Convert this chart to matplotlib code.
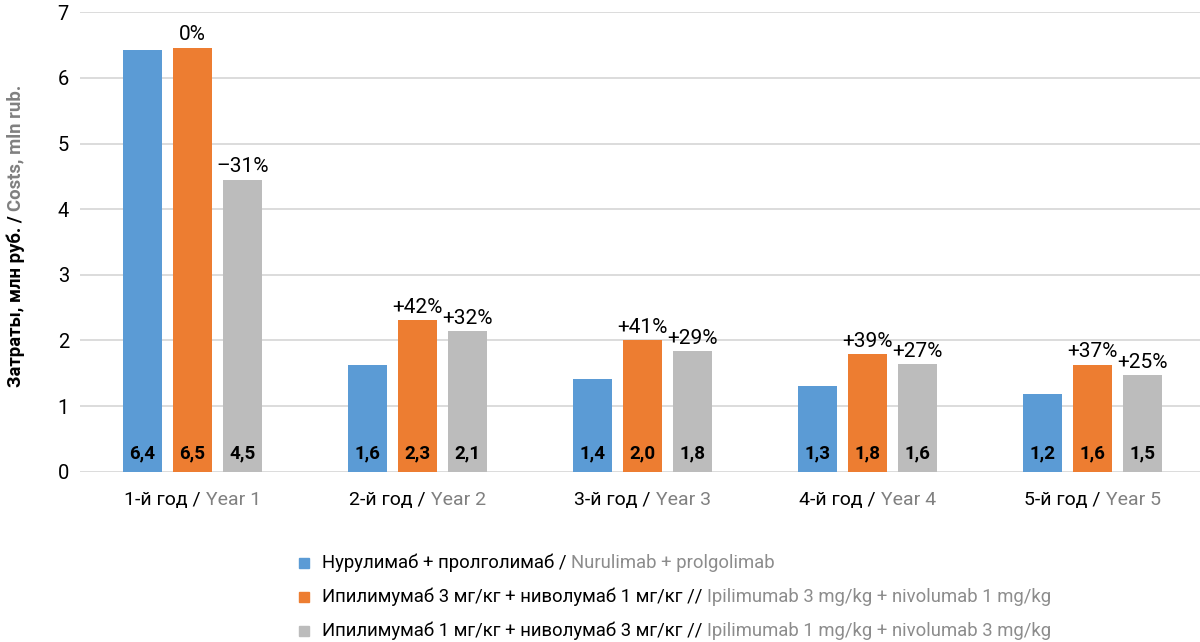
import matplotlib
matplotlib.use("Agg")
import matplotlib.pyplot as plt
from matplotlib.patches import Rectangle
import numpy as np

# DATA
years_ru = ["1-й год / ", "2-й год / ", "3-й год / ", "4-й год / ", "5-й год / "]
years_en = ["Year 1", "Year 2", "Year 3", "Year 4", "Year 5"]

nurulimab = [6.43, 1.63, 1.41, 1.30, 1.19]
ipi3_nivo1 = [6.46, 2.31, 2.01, 1.79, 1.63]
ipi1_nivo3 = [4.45, 2.14, 1.84, 1.64, 1.47]

pct_ipi3 = ["0%", "+42%", "+41%", "+39%", "+37%"]
pct_ipi1 = ["–31%", "+32%", "+29%", "+27%", "+25%"]

series_ru = [
    "Нурулимаб + пролголимаб / ",
    "Ипилимумаб 3 мг/кг + ниволумаб 1 мг/кг // ",
    "Ипилимумаб 1 мг/кг + ниволумаб 3 мг/кг // ",
]
series_en = [
    "Nurulimab + prolgolimab",
    "Ipilimumab 3 mg/kg + nivolumab 1 mg/kg",
    "Ipilimumab 1 mg/kg + nivolumab 3 mg/kg",
]

COLORS = ["#5b9bd5", "#ed7d31", "#bcbcbc"]
GREY_TXT = "#808080"

plt.rcParams["font.family"] = ["Roboto", "DejaVu Sans"]

W, H = 1200, 642
fig = plt.figure(figsize=(W / 100, H / 100), dpi=100)
ax = fig.add_axes([80 / W, 1 - 471.7 / H, 1125 / W, (471.7 - 12.3) / H])

x = np.arange(len(years_en))
w = 0.173
off = 0.222
all_series = [nurulimab, ipi3_nivo1, ipi1_nivo3]
for i, vals in enumerate(all_series):
    ax.bar(x + (i - 1) * off, vals, w, color=COLORS[i], zorder=3)
    for xi, v in zip(x + (i - 1) * off, vals):
        ax.text(xi, 0.28, f"{v:.1f}".replace(".", ","), ha="center", va="center",
                fontsize=13.5, fontweight="bold", color="black", zorder=4)

for pcts, i in ((pct_ipi3, 1), (pct_ipi1, 2)):
    for xi, v, p in zip(x + (i - 1) * off, all_series[i], pcts):
        ax.text(xi, v + 0.05, p, ha="center", va="bottom", fontsize=15, color="black")

ax.set_xlim(-0.5, len(x) - 0.5)
ax.set_ylim(0, 7)
ax.set_yticks(range(8))
ax.tick_params(axis="y", length=0, labelsize=14.5, pad=8)
ax.tick_params(axis="x", length=0, labelbottom=False)
ax.grid(axis="y", color="#d9d9d9", lw=1.3, zorder=0)
for s in ax.spines.values():
    s.set_visible(False)

fig.canvas.draw()
renderer = fig.canvas.get_renderer()


def two_tone(x_px, y_px, first, second, size, center=True, grey=GREY_TXT, **kw):
    """Black+grey text on one line; x_px is centre (or left edge), y_px from top."""
    yf = 1 - y_px / H
    t1 = fig.text(0, yf, first, ha="left", va="center", fontsize=size, color="black", **kw)
    t2 = fig.text(0, yf, second, ha="left", va="center", fontsize=size, color=grey, **kw)
    w1 = t1.get_window_extent(renderer).width
    w2 = t2.get_window_extent(renderer).width
    start = x_px - (w1 + w2) / 2 if center else x_px
    t1.set_x(start / W)
    t2.set_x((start + w1) / W)


# category labels
for xi, ru, en in zip(x, years_ru, years_en):
    px = ax.transData.transform((xi, 0))[0]
    two_tone(px, 500, ru, en, 14)

# two-colour rotated y label
y0 = 1 - 387 / H
yl1 = fig.text(0.013, y0, "Затраты, млн руб. / ", rotation=90, ha="center", va="bottom",
               fontsize=13.3, fontweight="bold", color="black")
top = yl1.get_window_extent(renderer).y1 / fig.bbox.height
fig.text(0.013, top, "Costs, mln rub.", rotation=90, ha="center", va="bottom",
         fontsize=13.3, fontweight="bold", color=GREY_TXT)

# legend, drawn by hand
rows_y = [563, 597, 631]
for c, ru, en, ry in zip(COLORS, series_ru, series_en, rows_y):
    fig.patches.append(Rectangle((299 / W, 1 - (ry + 5) / H), 10 / W, 10 / H,
                                 transform=fig.transFigure, color=c))
    two_tone(322, ry, ru, en, 13.3, center=False, grey="#8c8c8c")

fig.savefig("out.png", dpi=100)
